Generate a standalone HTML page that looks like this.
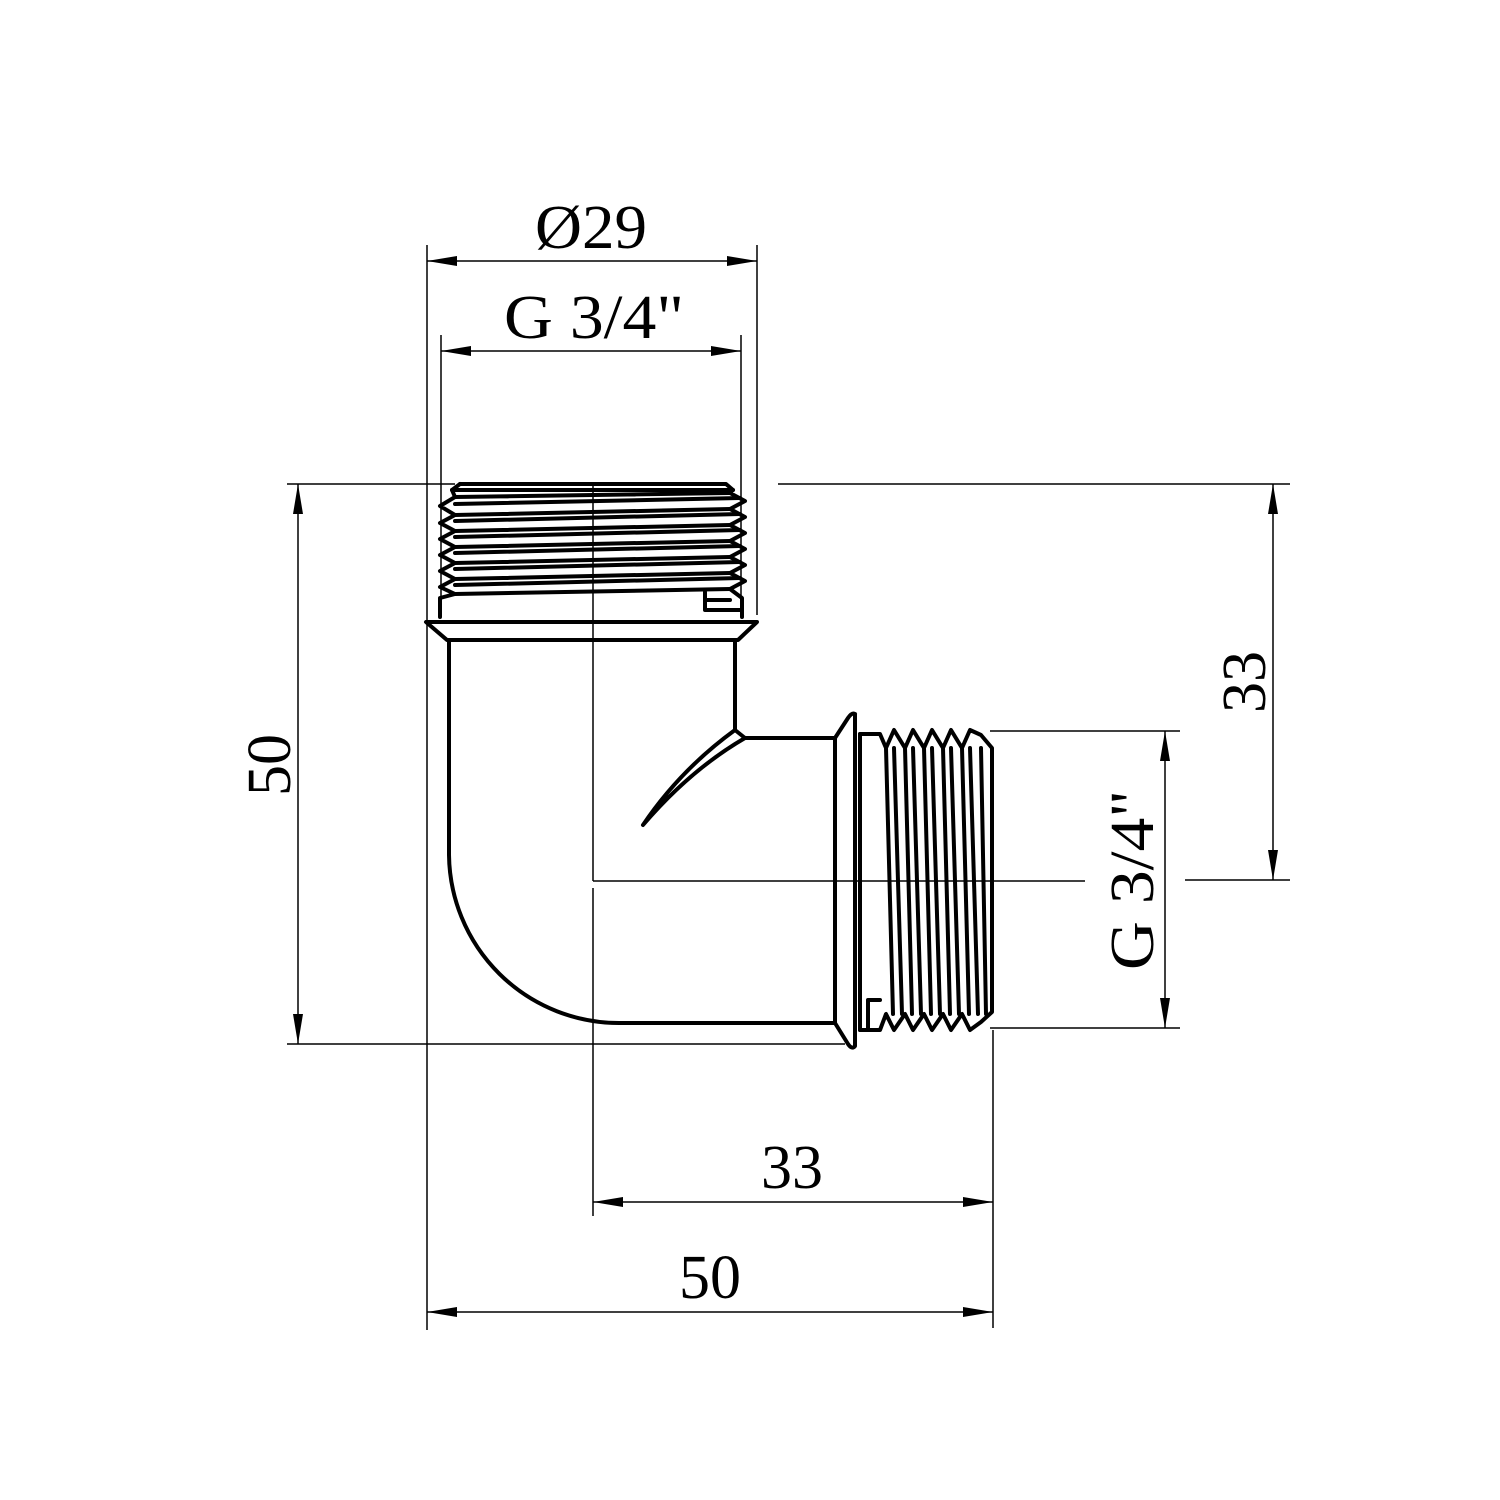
<!DOCTYPE html>
<html><head><meta charset="utf-8"><style>html,body{margin:0;padding:0;background:#fff}svg{display:block}</style></head>
<body>
<svg width="1500" height="1500" viewBox="0 0 1500 1500" xmlns="http://www.w3.org/2000/svg">
<defs>
<marker id="a" viewBox="0 0 30 10" refX="30" refY="5" markerWidth="30" markerHeight="10" markerUnits="userSpaceOnUse" orient="auto-start-reverse"><path d="M0,0 L30,5 L0,10 Z" fill="#000"/></marker>
</defs>
<g stroke="#000" stroke-width="1.5" fill="none">
<line x1="427" y1="245" x2="427" y2="1330"/>
<line x1="757" y1="245" x2="757" y2="615"/>
<line x1="441" y1="335" x2="441" y2="612"/>
<line x1="741" y1="335" x2="741" y2="612"/>
<line x1="287" y1="484" x2="455" y2="484"/>
<line x1="778" y1="484" x2="1290" y2="484"/>
<line x1="287" y1="1044" x2="845" y2="1044"/>
<line x1="990" y1="731" x2="1180" y2="731"/>
<line x1="990" y1="1028" x2="1180" y2="1028"/>
<line x1="1185" y1="880" x2="1290" y2="880"/>
<line x1="993" y1="1030" x2="993" y2="1328"/>
<line x1="593" y1="484" x2="593" y2="881"/>
<line x1="593" y1="881" x2="1085" y2="881"/>
<line x1="593" y1="888" x2="593" y2="1216"/>
<line x1="427" y1="261" x2="757" y2="261" marker-start="url(#a)" marker-end="url(#a)"/>
<line x1="441" y1="351" x2="741" y2="351" marker-start="url(#a)" marker-end="url(#a)"/>
<line x1="298" y1="484" x2="298" y2="1044" marker-start="url(#a)" marker-end="url(#a)"/>
<line x1="1273" y1="484" x2="1273" y2="880" marker-start="url(#a)" marker-end="url(#a)"/>
<line x1="1165" y1="731" x2="1165" y2="1028" marker-start="url(#a)" marker-end="url(#a)"/>
<line x1="593" y1="1202" x2="993" y2="1202" marker-start="url(#a)" marker-end="url(#a)"/>
<line x1="427" y1="1312" x2="993" y2="1312" marker-start="url(#a)" marker-end="url(#a)"/>
</g>
<g stroke="#000" stroke-width="4" fill="none" stroke-linejoin="round" stroke-linecap="round">
<!-- top thread -->
<path d="M460,484 L726,484 L733,490 L730,493 L745,501 L730,509 L745,517 L730,525 L745,533 L730,541 L745,549 L730,557 L745,565 L730,573 L745,581 L730,589 L742,598 L742,617"/>
<path d="M460,484 L452,490 L455,497 L440,506 L455,515 L440,523 L455,531 L440,539 L455,547 L440,555 L455,563 L440,571 L455,579 L440,587 L455,594 L440,598 L440,617"/>
<path d="M452,490 L733,490"/>
<path d="M455,497 L730,493 M455,504 L740,498"/>
<path d="M455,515 L730,509 M455,521 L740,514"/>
<path d="M455,531 L730,525 M455,537 L740,530"/>
<path d="M455,547 L730,541 M455,553 L740,546"/>
<path d="M455,563 L730,557 M455,569 L740,562"/>
<path d="M455,579 L730,573 M455,585 L740,578"/>
<path d="M455,594 L730,589"/>
<path d="M705,592 L705,610 L742,610 M705,600 L730,600"/>
<path d="M426,622 L757,622 L738,640 L447,640 Z"/>
<path d="M449,641 L449,855 A170,170 0 0 0 619,1023 L835,1023"/>
<path d="M735,641 L735,730 L745,738 L835,738"/>
<path d="M735,730 Q680,770 643,825 Q690,770 745,738"/>
<path d="M835,738 L835,1023 M855,714 L855,1046 Q852,1050 848,1044 L835,1023 M835,738 L848,718 Q852,712 855,714"/>
<path d="M860,734 L880,734 L886,748 L894,730 L905,748 L913,730 L924,748 L932,730 L943,748 L951,730 L962,748 L970,730 L981,735 L992,748 L992,1012 L981,1022 L970,1030 L962,1014 L951,1030 L943,1014 L932,1030 L924,1014 L913,1030 L905,1014 L894,1030 L886,1014 L880,1030 L860,1030"/>
<path d="M860,734 L860,1030"/>
<path d="M886,748 L893,1014 M894,748 L902,1014 M905,748 L912,1014 M913,748 L921,1014 M924,748 L931,1014 M932,748 L940,1014 M943,748 L950,1014 M951,748 L959,1014 M962,748 L969,1014 M970,748 L978,1014 M981,748 L986,1014"/>
<path d="M868,1030 L868,1000 L880,1000"/>
</g>
<g font-family="'Liberation Serif', serif" font-size="62" fill="#000" text-anchor="middle">
<text x="591" y="248" textLength="112" lengthAdjust="spacingAndGlyphs">Ø29</text>
<text x="594" y="338" textLength="180" lengthAdjust="spacingAndGlyphs">G 3/4"</text>
<text x="792" y="1188">33</text>
<text x="710" y="1298">50</text>
<text transform="translate(290,765) rotate(-90)">50</text>
<text transform="translate(1265,682) rotate(-90)">33</text>
<text transform="translate(1153,880) rotate(-90)" textLength="180" lengthAdjust="spacingAndGlyphs">G 3/4"</text>
</g>
</svg>
</body></html>
